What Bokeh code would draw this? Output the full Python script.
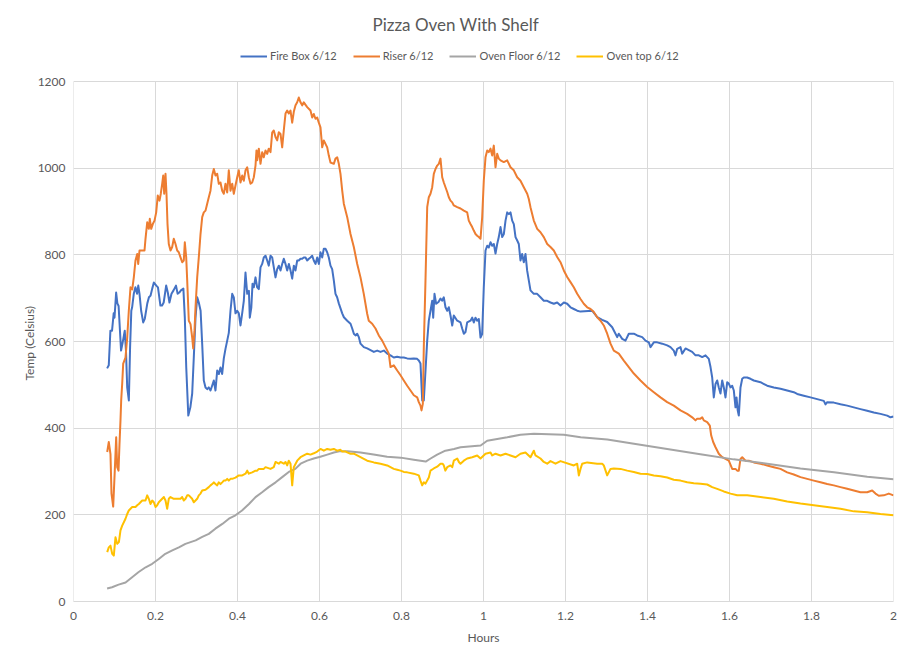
from bokeh.plotting import figure
from bokeh.models import Legend, LegendItem, FixedTicker, CustomJSTickFormatter, Range1d, Title
from bokeh.embed import file_html
from bokeh.resources import INLINE

title_text = "Pizza Oven With Shelf"
x_label = "Hours"
y_label = "Temp (Celsius)"
series_names = ["Fire Box 6/12", "Riser 6/12", "Oven Floor 6/12", "Oven top 6/12"]
series_colors = ["#4472C4", "#ED7D31", "#A5A5A5", "#FFC000"]
x_ticks = [0, 0.2, 0.4, 0.6, 0.8, 1.0, 1.2, 1.4, 1.6, 1.8, 2.0]
y_ticks = [0, 200, 400, 600, 800, 1000, 1200]

# (hours, temp) pairs
firebox = [(0.082,538),(0.086,545),(0.090,625),(0.094,625),(0.098,665),(0.100,655),(0.104,713),(0.107,688),(0.110,682),(0.116,579),(0.120,598),(0.125,625),(0.128,579),(0.131,494),(0.135,464),(0.138,586),(0.141,671),(0.143,679),(0.147,710),(0.151,725),(0.155,710),(0.158,729),(0.161,710),(0.165,671),(0.170,644),(0.174,653),(0.180,688),(0.184,702),(0.188,706),(0.192,722),(0.196,736),(0.202,729),(0.206,725),(0.212,683),(0.216,683),(0.220,690),(0.226,729),(0.230,713),(0.234,690),(0.239,710),(0.244,718),(0.250,729),(0.254,710),(0.258,713),(0.262,718),(0.268,722),(0.2715,655),(0.275,540),(0.280,429),(0.285,448),(0.2895,480),(0.2934,563),(0.2976,655),(0.3017,702),(0.3056,690),(0.310,671),(0.3139,594),(0.3178,510),(0.322,494),(0.3261,490),(0.330,494),(0.3342,487),(0.3381,498),(0.3422,510),(0.3463,487),(0.3505,533),(0.3546,525),(0.3585,540),(0.3626,525),(0.3666,561),(0.3707,583),(0.3749,602),(0.3788,620),(0.3829,671),(0.3871,710),(0.391,702),(0.3951,665),(0.3992,671),(0.4032,665),(0.4073,637),(0.4114,665),(0.4154,694),(0.4195,759),(0.4237,710),(0.4278,717),(0.430,655),(0.4337,678),(0.4366,733),(0.4398,725),(0.4439,748),(0.448,725),(0.452,721),(0.4561,771),(0.4602,779),(0.4641,794),(0.4683,798),(0.4724,787),(0.4763,775),(0.4805,798),(0.4846,794),(0.4886,771),(0.4927,748),(0.4968,767),(0.5008,775),(0.5049,764),(0.509,779),(0.5129,791),(0.5171,779),(0.5212,764),(0.5253,779),(0.5293,764),(0.5334,745),(0.5374,775),(0.5415,764),(0.5456,787),(0.5495,787),(0.5537,791),(0.5578,791),(0.5617,794),(0.5659,794),(0.57,787),(0.5741,791),(0.578,794),(0.5822,798),(0.5861,787),(0.5902,779),(0.5944,794),(0.5985,779),(0.6024,806),(0.6066,794),(0.6105,814),(0.6146,814),(0.6187,806),(0.6227,794),(0.6268,775),(0.6309,767),(0.6349,741),(0.639,710),(0.643,702),(0.6471,688),(0.6554,665),(0.6595,656),(0.6676,648),(0.6757,641),(0.6798,630),(0.6838,618),(0.6878,614),(0.6919,618),(0.696,610),(0.70,595),(0.7081,587),(0.7163,584),(0.7244,580),(0.7325,576),(0.7407,579),(0.7488,576),(0.757,579),(0.7651,572),(0.7732,568),(0.7812,563),(0.7894,565),(0.7975,563),(0.8056,563),(0.8138,561),(0.8218,560),(0.83,561),(0.8381,560),(0.8422,556),(0.8463,549),(0.8505,464),(0.8544,464),(0.8627,602),(0.8666,648),(0.8707,671),(0.8749,694),(0.8773,655),(0.8805,710),(0.8846,687),(0.8902,691),(0.8951,699),(0.899,694),(0.9032,702),(0.9073,679),(0.9115,671),(0.9154,679),(0.9195,660),(0.9237,637),(0.9276,660),(0.9359,648),(0.9439,644),(0.948,630),(0.952,618),(0.9561,622),(0.9602,644),(0.9683,648),(0.9724,655),(0.9764,644),(0.9805,655),(0.9846,648),(0.9886,652),(0.9927,609),(0.9967,617),(1.0007,725),(1.0049,810),(1.009,821),(1.013,817),(1.0171,829),(1.0212,821),(1.0252,825),(1.0293,803),(1.0334,825),(1.0373,841),(1.0415,864),(1.0456,841),(1.0496,848),(1.0537,879),(1.0578,898),(1.0619,894),(1.0659,898),(1.07,879),(1.0739,871),(1.0781,841),(1.0822,833),(1.0861,825),(1.0902,787),(1.0942,802),(1.0983,783),(1.1024,802),(1.1064,764),(1.1105,741),(1.1146,718),(1.1227,710),(1.1308,710),(1.139,702),(1.1471,694),(1.1553,694),(1.1634,690),(1.1716,687),(1.1797,690),(1.1878,683),(1.196,690),(1.2041,687),(1.2122,679),(1.2203,675),(1.2285,671),(1.2366,669),(1.2651,671),(1.2773,656),(1.2895,650),(1.3017,645),(1.3139,633),(1.322,618),(1.3261,610),(1.33,618),(1.3383,606),(1.3463,602),(1.3544,618),(1.3666,618),(1.3749,614),(1.3871,610),(1.3951,602),(1.4032,598),(1.4073,587),(1.4154,598),(1.4237,598),(1.4358,595),(1.448,591),(1.4561,587),(1.4641,579),(1.4683,568),(1.4724,583),(1.4805,587),(1.4846,572),(1.4927,584),(1.5008,580),(1.509,576),(1.5171,568),(1.5252,568),(1.5334,564),(1.5415,568),(1.5495,560),(1.5537,541),(1.5578,517),(1.5617,471),(1.5659,502),(1.57,510),(1.5739,494),(1.578,480),(1.5822,510),(1.5861,494),(1.5902,471),(1.5944,506),(1.5983,503),(1.6024,494),(1.6066,498),(1.6105,487),(1.6146,448),(1.6171,471),(1.6202,440),(1.6227,429),(1.6268,494),(1.631,514),(1.6349,517),(1.643,517),(1.6512,514),(1.6593,510),(1.6756,506),(1.6919,498),(1.7081,494),(1.7244,491),(1.7407,487),(1.7568,483),(1.7651,479),(1.7812,475),(1.7976,471),(1.8139,467),(1.83,463),(1.8341,455),(1.8383,460),(1.8544,459),(1.8707,455),(1.8871,452),(1.9032,448),(1.9195,444),(1.9358,440),(1.9519,436),(1.9683,433),(1.9846,429),(1.9927,425),(2.0,427)]

riser = [(0.0822,345),(0.0861,368),(0.0902,340),(0.0927,249),(0.0968,219),(0.1007,302),(0.1041,379),(0.1066,310),(0.1098,302),(0.1122,364),(0.1146,418),(0.1163,464),(0.1188,503),(0.1212,549),(0.1268,563),(0.131,609),(0.1349,671),(0.139,725),(0.1432,720),(0.1471,748),(0.1512,787),(0.1554,802),(0.1578,779),(0.161,810),(0.1676,810),(0.1732,810),(0.1756,837),(0.1798,875),(0.1837,860),(0.1861,883),(0.1895,860),(0.1934,871),(0.1976,879),(0.2017,898),(0.2056,937),(0.2098,925),(0.2129,941),(0.2163,964),(0.2188,983),(0.2212,941),(0.2244,987),(0.2268,941),(0.2293,871),(0.2324,825),(0.2366,810),(0.2407,818),(0.2446,837),(0.2488,825),(0.2529,810),(0.2568,806),(0.261,794),(0.2651,783),(0.269,787),(0.2715,829),(0.2749,794),(0.2773,741),(0.2812,648),(0.2854,640),(0.2895,609),(0.292,584),(0.2951,625),(0.2976,679),(0.3017,748),(0.3056,794),(0.3098,848),(0.3139,887),(0.3178,898),(0.322,902),(0.3261,918),(0.33,933),(0.3341,948),(0.3383,983),(0.3422,998),(0.3463,983),(0.3505,987),(0.3544,964),(0.3585,967),(0.3627,948),(0.3666,941),(0.3707,964),(0.3749,944),(0.3788,995),(0.3829,948),(0.3871,964),(0.391,941),(0.3951,960),(0.3993,979),(0.4032,995),(0.4073,967),(0.4115,983),(0.4154,971),(0.4195,995),(0.4237,1002),(0.4276,979),(0.4317,964),(0.4358,967),(0.4398,979),(0.4439,1006),(0.4463,1041),(0.448,1018),(0.452,1045),(0.4561,1010),(0.4602,1037),(0.4641,1025),(0.4683,1041),(0.4724,1033),(0.4763,1045),(0.4805,1037),(0.4846,1082),(0.4885,1087),(0.4927,1072),(0.4968,1064),(0.5007,1083),(0.5049,1079),(0.509,1048),(0.5129,1087),(0.5171,1126),(0.5212,1133),(0.5251,1126),(0.5293,1133),(0.5334,1105),(0.5373,1130),(0.5415,1145),(0.5456,1152),(0.5495,1163),(0.5537,1152),(0.5578,1145),(0.5617,1152),(0.57,1141),(0.578,1133),(0.5822,1117),(0.5861,1125),(0.5902,1114),(0.5944,1117),(0.5983,1105),(0.6024,1094),(0.6066,1048),(0.6105,1064),(0.6146,1056),(0.6188,1048),(0.6227,1029),(0.6268,1013),(0.6349,1010),(0.639,1022),(0.6432,1025),(0.6471,1010),(0.6512,987),(0.6554,948),(0.6593,918),(0.6676,887),(0.6756,848),(0.6837,818),(0.692,779),(0.70,748),(0.708,710),(0.7163,664),(0.7202,648),(0.7285,641),(0.7366,630),(0.7446,614),(0.7529,602),(0.761,587),(0.769,572),(0.7732,541),(0.7812,545),(0.7895,533),(0.7976,522),(0.8056,510),(0.8139,498),(0.822,487),(0.83,476),(0.8383,471),(0.8422,460),(0.8463,452),(0.8488,441),(0.852,456),(0.8544,587),(0.8585,741),(0.8627,910),(0.8666,933),(0.8707,941),(0.8749,956),(0.8788,987),(0.8829,998),(0.8871,1006),(0.891,1010),(0.8951,1022),(0.8993,979),(0.9032,967),(0.9073,956),(0.9115,945),(0.9154,933),(0.9195,925),(0.9237,921),(0.9276,914),(0.9359,910),(0.9439,907),(0.952,902),(0.9602,898),(0.9641,879),(0.9683,871),(0.9724,864),(0.9763,856),(0.9805,848),(0.9846,844),(0.9885,841),(0.9927,837),(0.9968,887),(1.0007,971),(1.0049,1025),(1.009,1041),(1.0129,1037),(1.0171,1045),(1.0212,1029),(1.0251,1052),(1.0293,1002),(1.0334,1033),(1.0373,1022),(1.0415,1018),(1.0495,1014),(1.0578,1018),(1.0659,1002),(1.0739,995),(1.0822,979),(1.0902,971),(1.0983,956),(1.1066,941),(1.1105,929),(1.1146,910),(1.1227,879),(1.131,860),(1.139,852),(1.1471,841),(1.1554,825),(1.1634,818),(1.1715,810),(1.1797,795),(1.1878,783),(1.1959,764),(1.2041,749),(1.2122,737),(1.2202,725),(1.2285,710),(1.2366,698),(1.2446,687),(1.2529,679),(1.261,675),(1.269,668),(1.2773,656),(1.2854,648),(1.2934,637),(1.3017,618),(1.3098,595),(1.3178,579),(1.33,572),(1.3422,556),(1.3544,541),(1.3666,526),(1.3829,510),(1.3993,495),(1.4154,483),(1.4317,471),(1.448,460),(1.4641,452),(1.4805,441),(1.4968,433),(1.509,425),(1.5171,418),(1.5212,422),(1.5293,422),(1.5334,425),(1.5373,418),(1.5456,414),(1.552,406),(1.5554,383),(1.5602,368),(1.5659,356),(1.5739,341),(1.5822,333),(1.5902,329),(1.5983,325),(1.6066,306),(1.6146,306),(1.6188,302),(1.6227,302),(1.6268,329),(1.631,333),(1.639,325),(1.6471,325),(1.6593,321),(1.6756,318),(1.6919,314),(1.708,310),(1.7244,306),(1.7407,298),(1.7568,293),(1.7732,287),(1.7895,283),(1.8056,279),(1.822,275),(1.8383,271),(1.8544,268),(1.8707,264),(1.8871,260),(1.9032,256),(1.9195,252),(1.9358,252),(1.948,256),(1.9561,249),(1.9641,244),(1.9763,245),(1.9885,249),(2.0,245)]

oven_floor = [(0.082,30),(0.094,33),(0.110,39),(0.127,44),(0.143,56),(0.159,68),(0.176,79),(0.192,87),(0.208,98),(0.224,110),(0.241,118),(0.257,125),(0.273,133),(0.298,141),(0.314,149),(0.330,156),(0.346,168),(0.363,179),(0.379,191),(0.395,199),(0.411,210),(0.428,225),(0.444,241),(0.460,252),(0.476,264),(0.493,275),(0.509,287),(0.525,299),(0.541,306),(0.554,318),(0.570,325),(0.586,330),(0.602,334),(0.619,339),(0.635,344),(0.651,347),(0.668,347),(0.700,344),(0.732,339),(0.765,334),(0.798,332),(0.830,327),(0.859,323),(0.871,330),(0.887,339),(0.907,348),(0.928,352),(0.944,356),(0.993,360),(1.009,371),(1.058,379),(1.090,385),(1.123,387),(1.196,385),(1.237,379),(1.302,374),(1.367,364),(1.448,352),(1.529,340),(1.610,328),(1.692,318),(1.773,307),(1.855,298),(1.936,288),(2.0,282)]

oven_top = [(0.0822,114),(0.0861,125),(0.0902,129),(0.0944,110),(0.0983,106),(0.1024,148),(0.1066,133),(0.1107,137),(0.1146,164),(0.1188,175),(0.1268,191),(0.131,202),(0.1349,210),(0.139,214),(0.1432,218),(0.1512,218),(0.1554,222),(0.1593,225),(0.1676,233),(0.1756,233),(0.1798,245),(0.1837,237),(0.1878,225),(0.192,233),(0.1959,229),(0.20,218),(0.2041,222),(0.208,229),(0.2122,233),(0.2163,237),(0.2205,241),(0.2244,233),(0.2285,214),(0.2324,237),(0.2366,241),(0.2446,237),(0.2529,237),(0.261,237),(0.2651,241),(0.269,233),(0.2732,237),(0.2773,245),(0.2812,245),(0.2854,241),(0.2893,237),(0.2934,229),(0.2976,233),(0.3017,237),(0.3056,245),(0.3098,249),(0.3139,256),(0.322,258),(0.33,264),(0.3341,268),(0.3383,271),(0.3422,275),(0.3463,271),(0.3505,268),(0.3544,275),(0.3585,271),(0.3627,275),(0.3666,279),(0.3707,279),(0.3749,283),(0.3788,279),(0.3829,283),(0.3871,283),(0.3951,286),(0.4032,291),(0.4115,291),(0.4195,295),(0.4237,302),(0.4276,295),(0.4358,298),(0.4439,302),(0.448,302),(0.452,306),(0.4641,306),(0.4683,310),(0.4805,306),(0.4885,310),(0.4927,322),(0.5007,318),(0.5049,322),(0.5129,318),(0.5171,322),(0.5212,314),(0.5251,325),(0.5293,318),(0.5334,268),(0.5373,310),(0.5456,325),(0.5537,333),(0.5617,337),(0.57,341),(0.578,339),(0.5861,342),(0.5944,346),(0.6024,352),(0.6105,348),(0.6188,352),(0.6268,350),(0.6349,352),(0.643,348),(0.6512,350),(0.6554,346),(0.6637,346),(0.6676,344),(0.6756,341),(0.6837,341),(0.6919,337),(0.70,333),(0.7163,325),(0.7325,321),(0.7488,318),(0.7651,314),(0.7812,306),(0.7895,304),(0.7976,302),(0.8056,299),(0.8138,298),(0.83,295),(0.8422,291),(0.8463,279),(0.8505,268),(0.8544,275),(0.8585,272),(0.8666,286),(0.8707,302),(0.8788,307),(0.887,311),(0.8951,318),(0.90,318),(0.9032,314),(0.907,302),(0.9115,310),(0.9195,314),(0.9237,310),(0.9276,325),(0.9359,330),(0.94,322),(0.9439,318),(0.952,325),(0.9602,330),(0.9724,333),(0.9846,337),(0.9927,330),(1.0049,341),(1.0171,344),(1.0212,337),(1.0293,341),(1.0415,337),(1.0537,341),(1.0659,337),(1.0781,333),(1.0902,341),(1.1024,344),(1.1146,333),(1.1227,348),(1.1268,337),(1.139,330),(1.1471,322),(1.1553,318),(1.1634,324),(1.1756,318),(1.1878,324),(1.2203,314),(1.2285,318),(1.2325,291),(1.2366,306),(1.2407,318),(1.2529,321),(1.2773,318),(1.2895,318),(1.2934,314),(1.3017,291),(1.3098,306),(1.3178,307),(1.3341,306),(1.3505,302),(1.3666,299),(1.3829,295),(1.3993,294),(1.4154,291),(1.4317,289),(1.448,286),(1.4641,281),(1.4805,279),(1.4968,275),(1.513,273),(1.5293,272),(1.5456,270),(1.5578,264),(1.57,260),(1.5861,254),(1.6024,249),(1.6188,245),(1.6432,245),(1.6756,241),(1.708,237),(1.7407,231),(1.7732,226),(1.8056,222),(1.8383,218),(1.8707,214),(1.9032,208),(1.9358,206),(1.9683,202),(2.0,199)]

series_data = [firebox, riser, oven_floor, oven_top]

FONT = "Lato"
TXT = "#595959"
GRID = "#d9d9d9"

# frame reaches up into the header band so the legend can sit inside it
FRAME_H = 561
Y_TOP = 1200 * FRAME_H / 520

p = figure(width=912, height=662, output_backend="svg", toolbar_location=None,
           x_range=Range1d(0, 2), y_range=Range1d(0, Y_TOP),
           min_border_left=73, min_border_right=19, min_border_top=40, min_border_bottom=61,
           background_fill_color="white", border_fill_color="white")

p.title.text = title_text
p.title.align = "left"
p.title.offset = 299
p.title.text_font = FONT
p.title.text_font_size = "17px"
p.title.text_font_style = "normal"
p.title.text_color = TXT
p.title.standoff = 12

p.outline_line_color = None

for ax in (p.xaxis[0], p.yaxis[0]):
    ax.major_label_text_font = FONT
    ax.major_label_text_font_size = "12px"
    ax.major_label_text_color = TXT
    ax.axis_label_text_font = FONT
    ax.axis_label_text_font_size = "12px"
    ax.axis_label_text_font_style = "normal"
    ax.axis_label_text_color = TXT
    ax.major_tick_line_color = None
    ax.minor_tick_line_color = None
    ax.major_tick_out = 0
    ax.major_tick_in = 0

p.xaxis[0].ticker = FixedTicker(ticks=x_ticks)
p.xaxis[0].formatter = CustomJSTickFormatter(code="return String(Math.round(tick*10)/10);")
p.xaxis[0].axis_line_color = GRID
p.xaxis[0].major_label_standoff = 10
p.xaxis[0].axis_label = x_label
p.xaxis[0].axis_label_standoff = 7

p.yaxis[0].ticker = FixedTicker(ticks=y_ticks)
p.yaxis[0].axis_line_color = None
p.yaxis[0].major_label_standoff = 8

ytitle = Title(text=y_label, align="left", offset=221, standoff=-4,
               text_font=FONT, text_font_size="12px", text_font_style="normal", text_color=TXT)
p.add_layout(ytitle, "left")

p.xgrid[0].visible = False
p.ygrid[0].ticker = FixedTicker(ticks=y_ticks)
p.ygrid[0].grid_line_color = GRID
p.ygrid[0].grid_line_width = 1
p.segment(x0=x_ticks, y0=[y_ticks[0]] * len(x_ticks), x1=x_ticks, y1=[y_ticks[-1]] * len(x_ticks),
          line_color=GRID, line_width=1)

items = []
for name, color, data in zip(series_names, series_colors, series_data):
    xs = [d[0] for d in data]
    ys = [d[1] for d in data]
    r = p.line(xs, ys, line_color=color, line_width=2, line_join="round")
    items.append(LegendItem(label=name, renderers=[r]))

legend = Legend(items=items, orientation="horizontal", location=(167, 539),
                label_text_font=FONT, label_text_font_size="11px", label_text_color=TXT,
                glyph_width=27, glyph_height=12, label_standoff=3, spacing=16,
                padding=0, margin=0, border_line_color=None, background_fill_alpha=0)
p.add_layout(legend)

open("out.html", "w").write(file_html(p, INLINE))
